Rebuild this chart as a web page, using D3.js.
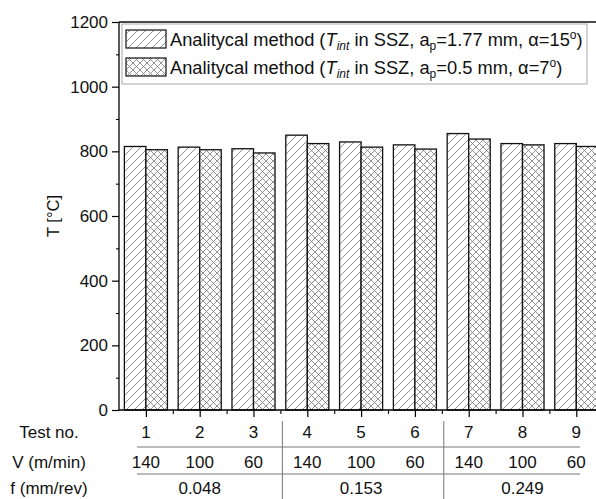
<!DOCTYPE html>
<html>
<head>
<meta charset="utf-8">
<script src="https://cdn.jsdelivr.net/npm/d3@7"></script>
<style>
  body { margin: 0; background: #fff; }
  svg { display: block; font-family: Arial, "Liberation Sans", sans-serif; }
</style>
</head>
<body>
<div id="chart"></div>
<script>
// data
const tests = [1, 2, 3, 4, 5, 6, 7, 8, 9];
const velocities = [140, 100, 60, 140, 100, 60, 140, 100, 60];
const feeds = ["0.048", "0.153", "0.249"];
const seriesA = [815, 813, 808, 850, 829, 820, 855, 824, 824];
const seriesB = [805, 805, 795, 824, 813, 807, 838, 820, 815];
const yTicks = [0, 200, 400, 600, 800, 1000, 1200];
const rowLabels = ["Test no.", "V (m/min)", "f (mm/rev)"];

const W = 596, H = 499;
const plotLeft = 119, plotTop = 22, plotBottom = 410;
const step = 53.8;

const svg = d3.select("#chart").append("svg")
    .attr("width", W)
    .attr("height", H);

// hatch patterns
const defs = svg.append("defs");
const diag = defs.append("pattern")
    .attr("id", "diag")
    .attr("patternUnits", "userSpaceOnUse")
    .attr("width", 8).attr("height", 8);
diag.append("rect").attr("width", 8).attr("height", 8).attr("fill", "#fff");
diag.append("path")
    .attr("d", "M-2,2 L2,-2 M0,8 L8,0 M6,10 L10,6")
    .attr("stroke", "#777").attr("stroke-width", 0.8);

const cross = defs.append("pattern")
    .attr("id", "cross")
    .attr("patternUnits", "userSpaceOnUse")
    .attr("width", 7).attr("height", 7);
cross.append("rect").attr("width", 7).attr("height", 7).attr("fill", "#fff");
cross.append("path")
    .attr("d", "M0,0 L7,7 M0,7 L7,0")
    .attr("stroke", "#777").attr("stroke-width", 0.8);

// scales
const x = d3.scaleLinear().domain([0.5, 9.5]).range([plotLeft, plotLeft + 9 * step]);
const y = d3.scaleLinear().domain([0, 1200]).range([plotBottom, plotTop]);
const barW = step * 0.4;

// bars
const g = svg.append("g");
g.selectAll("rect.a").data(seriesA).join("rect")
    .attr("class", "a")
    .attr("x", (d, i) => x(tests[i]) - barW)
    .attr("y", d => y(d))
    .attr("width", barW)
    .attr("height", d => y(0) - y(d))
    .attr("fill", "url(#diag)")
    .attr("stroke", "#111").attr("stroke-width", 1.3);

g.selectAll("rect.b").data(seriesB).join("rect")
    .attr("class", "b")
    .attr("x", (d, i) => x(tests[i]))
    .attr("y", d => y(d))
    .attr("width", barW)
    .attr("height", d => y(0) - y(d))
    .attr("fill", "url(#cross)")
    .attr("stroke", "#111").attr("stroke-width", 1.3);

// frame top & right
svg.append("path")
    .attr("d", `M${plotLeft},${plotTop} H${x(9.5)} V${plotBottom}`)
    .attr("fill", "none").attr("stroke", "#111").attr("stroke-width", 1.3);

// y axis
const yAxis = svg.append("g")
    .attr("transform", `translate(${plotLeft},0)`)
    .call(d3.axisLeft(y).tickValues(yTicks).tickSize(7).tickPadding(4).tickFormat(d3.format("d")))
    .call(g => g.select(".domain").attr("stroke-width", 1.3).attr("d", `M0,${plotBottom}V${plotTop}`));
yAxis.selectAll("text").attr("font-size", 17).attr("fill", "#111")
    .style("font-family", "Arial, 'Liberation Sans', sans-serif");
yAxis.selectAll(".tick line").attr("stroke-width", 1.2);

svg.append("g")
    .attr("transform", `translate(${plotLeft},0)`)
    .call(d3.axisLeft(y).tickValues(d3.range(100, 1200, 200)).tickSize(3).tickFormat(""))
    .call(g => g.select(".domain").remove())
    .selectAll("line").attr("stroke-width", 1.1);

// x axis
svg.append("g")
    .attr("transform", `translate(0,${plotBottom})`)
    .call(d3.axisBottom(x).tickValues(tests).tickSize(7).tickFormat(""))
    .call(g => g.select(".domain").attr("stroke-width", 1.3).attr("d", `M${plotLeft},0H${x(9.5)}`))
    .selectAll(".tick line").attr("stroke-width", 1.2);

svg.append("g")
    .attr("transform", `translate(0,${plotBottom})`)
    .call(d3.axisBottom(x).tickValues(tests.map(t => t + 0.5).slice(0, 8)).tickSize(4).tickFormat(""))
    .call(g => g.select(".domain").remove())
    .selectAll("line").attr("stroke-width", 1.1);

// y label
svg.append("text")
    .attr("transform", `translate(59,${y(600)}) rotate(-90)`)
    .attr("text-anchor", "middle")
    .attr("font-size", 16.5)
    .attr("fill", "#111")
    .text("T [°C]");

// table under the axis
const rowY = [432, 462, 488];
const table = svg.append("g").attr("font-size", 17).attr("fill", "#111");

table.selectAll("text.row").data(rowLabels).join("text")
    .attr("class", "row")
    .attr("x", 49)
    .attr("y", (d, i) => rowY[i])
    .attr("dy", "0.35em")
    .attr("text-anchor", "middle")
    .text(d => d);

table.selectAll("text.test").data(tests).join("text")
    .attr("class", "test")
    .attr("x", d => x(d))
    .attr("y", rowY[0])
    .attr("dy", "0.35em")
    .attr("text-anchor", "middle")
    .text(d => d);

table.selectAll("text.vel").data(velocities).join("text")
    .attr("class", "vel")
    .attr("x", (d, i) => x(tests[i]))
    .attr("y", rowY[1])
    .attr("dy", "0.35em")
    .attr("text-anchor", "middle")
    .text(d => d);

table.selectAll("text.feed").data(feeds).join("text")
    .attr("class", "feed")
    .attr("x", (d, i) => x(tests[i * 3 + 1]))
    .attr("y", rowY[2])
    .attr("dy", "0.35em")
    .attr("text-anchor", "middle")
    .text(d => d);

const tableLines = svg.append("g").attr("stroke", "#777").attr("stroke-width", 1);
[447, 474].forEach(yy => {
    tableLines.append("line")
        .attr("x1", x(0.5) + 18).attr("x2", x(9.5) - 23)
        .attr("y1", yy).attr("y2", yy);
});
[3.5, 6.5].forEach(v => {
    tableLines.append("line")
        .attr("x1", x(v) + 2).attr("x2", x(v) + 2)
        .attr("y1", 421).attr("y2", H);
});

// legend
const legend = svg.append("g");
legend.append("rect")
    .attr("x", 122).attr("y", 24)
    .attr("width", 465).attr("height", 60)
    .attr("fill", "#fff")
    .attr("stroke", "#aaa").attr("stroke-width", 1);

const legendItems = [
    { fill: "url(#diag)", ap: "1.77", alpha: "15" },
    { fill: "url(#cross)", ap: "0.5", alpha: "7" }
];
legendItems.forEach((item, i) => {
    const cy = 39 + i * 28;
    legend.append("rect")
        .attr("x", 126).attr("y", cy - 9)
        .attr("width", 40).attr("height", 18)
        .attr("fill", item.fill)
        .attr("stroke", "#111").attr("stroke-width", 1.2);
    const t = legend.append("text")
        .attr("x", 170).attr("y", cy + 6.5)
        .attr("font-size", 18.3).attr("fill", "#111");
    t.append("tspan").text("Analitycal method (");
    t.append("tspan").attr("font-style", "italic").text("T");
    t.append("tspan").attr("font-style", "italic").attr("font-size", 12).attr("dy", 4).text("int");
    t.append("tspan").attr("dy", -4).text(" in SSZ, a");
    t.append("tspan").attr("font-size", 12).attr("dy", 4).text("p");
    t.append("tspan").attr("dy", -4).text(`=${item.ap} mm, α=${item.alpha}`);
    t.append("tspan").attr("font-size", 12).attr("dy", -7).text("o");
    t.append("tspan").attr("dy", 7).text(")");
});
</script>
</body>
</html>
